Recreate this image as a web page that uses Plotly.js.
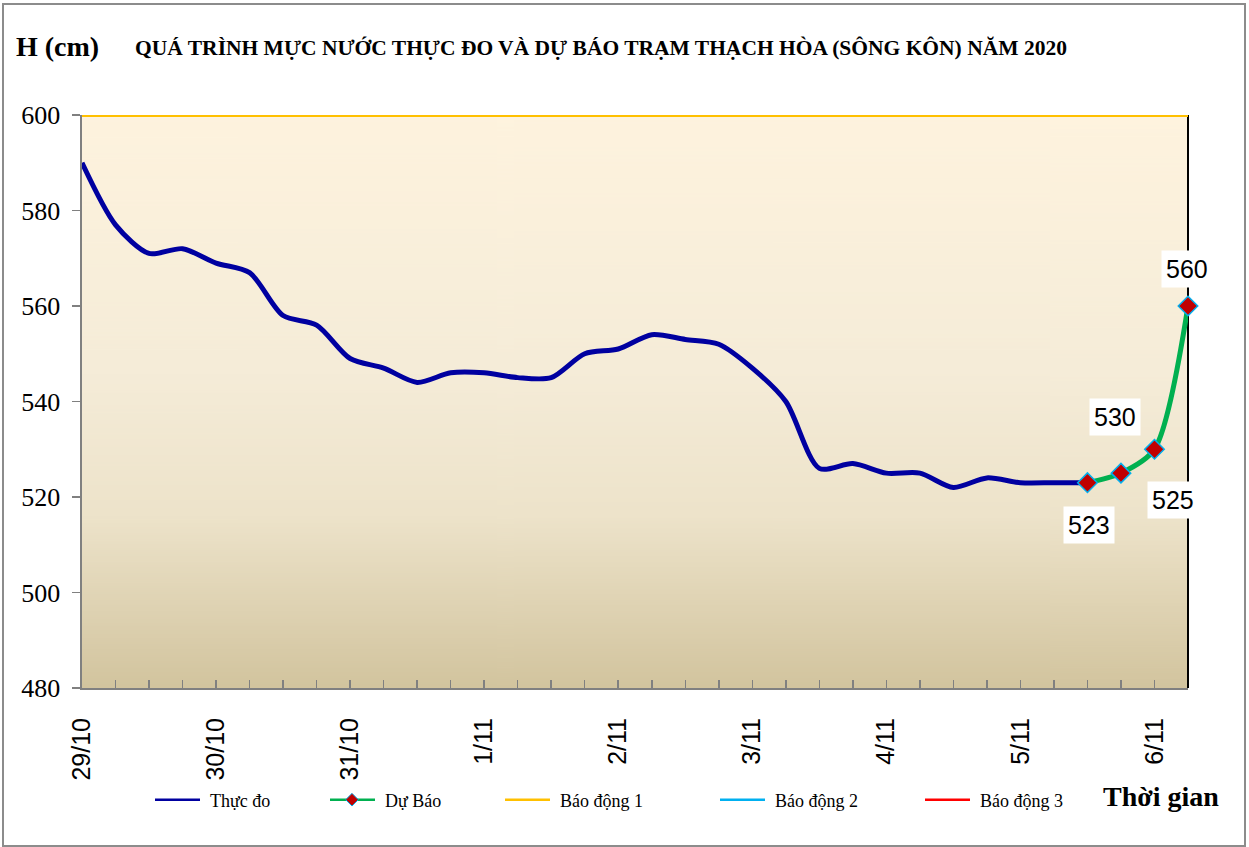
<!DOCTYPE html>
<html>
<head>
<meta charset="utf-8">
<script src="https://cdn.plot.ly/plotly-3.0.1.min.js"></script>
<style>
html,body{margin:0;padding:0;background:#fff;}
#wrap{position:relative;width:1249px;height:847px;}
#chart{width:1249px;height:847px;}
#frame{position:absolute;left:2px;top:3px;width:1240px;height:840px;border:2px solid #8c8c8c;pointer-events:none;}
</style>
</head>
<body>
<div id="wrap"><div id="chart"></div><div id="frame"></div></div>
<script>
// ---- data (4 observations per day, category index) ----
const dayLabels = ["29/10","30/10","31/10","1/11","2/11","3/11","4/11","5/11","6/11"];
const observed = [590,577,571,572,569,567,558,556,549,547,544,546,546,545,545,550,551,554,553,552,547,540,526,527,525,525,522,524,523,523,523];
const forecast = [523,525,530,560];
const forecastStart = 30;
const alarm1 = 600, alarm2 = 700, alarm3 = 800;
const nPoints = 34;

const idx = Array.from({length:nPoints},(_,i)=>i);
const obsX = observed.map((_,i)=>i);
const fcX = forecast.map((_,i)=>forecastStart+i);
const tickText = idx.map(i => (i%4===0) ? dayLabels[i/4] : "");

// gradient background image
function gradientURL(){
  const c=document.createElement('canvas'); c.width=4; c.height=600;
  const g=c.getContext('2d');
  const gr=g.createLinearGradient(0,0,0,600);
  gr.addColorStop(0,'#FEF3DE');
  gr.addColorStop(0.45,'#F5ECD8');
  gr.addColorStop(0.7,'#EDE3CA');
  gr.addColorStop(1,'#D2C49E');
  g.fillStyle=gr; g.fillRect(0,0,4,600);
  return c.toDataURL();
}

const serif = "Liberation Serif, Times New Roman, serif";
const sans = "Liberation Sans, Arial, sans-serif";

const traces = [
  {x: obsX, y: observed, type:'scatter', mode:'lines', name:'Thực đo',
   line:{color:'#0000A0', width:5, shape:'spline', smoothing:0.8}, legend:'legend', cliponaxis:false},
  {x: fcX, y: forecast, type:'scatter', mode:'lines+markers', name:'Dự Báo',
   line:{color:'#00B050', width:5, shape:'spline', smoothing:0.8},
   marker:{symbol:'diamond', size:15, color:'#C00000', line:{color:'#00B0F0', width:1.5}},
   legend:'legend2', cliponaxis:false},
  {x: idx, y: idx.map(()=>alarm1), type:'scatter', mode:'lines', name:'Báo động 1',
   line:{color:'#FFC000', width:4}, legend:'legend3'},
  {x: idx, y: idx.map(()=>alarm2), type:'scatter', mode:'lines', name:'Báo động 2',
   line:{color:'#00B0F0', width:2}, legend:'legend4'},
  {x: idx, y: idx.map(()=>alarm3), type:'scatter', mode:'lines', name:'Báo động 3',
   line:{color:'#FF0000', width:2}, legend:'legend5'}
];

const px = v => (v-82)/1106;
const py = v => (688-v)/573;
function leg(xpx){
  return {x:px(xpx), y:py(800), xanchor:'left', yanchor:'middle', orientation:'h', itemwidth:50,
          bgcolor:'rgba(0,0,0,0)', font:{family:serif, size:18, color:'#000'}};
}

// label offsets (pixels) for forecast values
const lblShift = [[2,-42],[52,-27],[-39,32],[-1,37]];
const annotations = forecast.map((v,i)=>({
  x: fcX[i], y: v, xref:'x', yref:'y', text: String(v), showarrow:false,
  xshift: lblShift[i][0], yshift: lblShift[i][1],
  font:{family:sans, size:25, color:'#000'}, bgcolor:'#fff', borderpad:4
}));
annotations.push({xref:'paper', yref:'paper', x:px(14), y:py(46), xanchor:'left', yanchor:'middle',
  text:'<b>H (cm)</b>', showarrow:false, font:{family:serif, size:28, color:'#000'}});
annotations.push({xref:'paper', yref:'paper', x:px(1101), y:py(796), xanchor:'left', yanchor:'middle',
  text:'<b>Thời gian</b>', showarrow:false, font:{family:serif, size:28, color:'#000'}});

const layout = {
  width:1249, height:847,
  margin:{l:82, r:61, t:115, b:159},
  paper_bgcolor:'#fff', plot_bgcolor:'rgba(0,0,0,0)',
  title:{text:'<b>QUÁ TRÌNH MỰC NƯỚC THỰC ĐO VÀ DỰ BÁO TRẠM THẠCH HÒA (SÔNG KÔN) NĂM 2020</b>',
    xref:'container', yref:'container', x:135/1249, xanchor:'left', y:1-47/847, yanchor:'middle',
    font:{family:serif, size:21.5, color:'#000'}},
  xaxis:{range:[0,33], tickmode:'array', tickvals:idx, ticktext:tickText, tickangle:-90,
    ticks:'inside', ticklen:8, tickwidth:1.5, tickcolor:'#808080',
    showline:true, linecolor:'#808080', linewidth:2, showgrid:false, zeroline:false,
    tickfont:{family:sans, size:25, color:'#000'}, ticklabelstandoff:18, fixedrange:true},
  yaxis:{range:[480,600], tickmode:'linear', tick0:480, dtick:20,
    ticks:'outside', ticklen:8, tickwidth:1.5, tickcolor:'#808080',
    showline:true, linecolor:'#808080', linewidth:2.5, showgrid:false, zeroline:false,
    tickfont:{family:serif, size:26, color:'#000'}, ticklabelstandoff:6, fixedrange:true},
  showlegend:true,
  legend:leg(150), legend2:leg(325), legend3:leg(500), legend4:leg(715), legend5:leg(920),
  images:[{source:gradientURL(), xref:'paper', yref:'paper', x:0, y:1, sizex:1, sizey:1,
    sizing:'stretch', layer:'below', xanchor:'left', yanchor:'top'}],
  shapes:[{type:'line', xref:'paper', yref:'paper', x0:1, x1:1, y0:0, y1:1,
    line:{color:'#000', width:2}, layer:'below'}],
  annotations: annotations
};

Plotly.newPlot('chart', traces, layout, {displayModeBar:false, staticPlot:true}).then(gd => {
  // thinner, longer legend symbols like the original
  gd.querySelectorAll('.legendlines path').forEach(p => {
    p.setAttribute('d','M5,0h45');
    p.style.strokeWidth = '2.5px';
  });
  gd.querySelectorAll('.legendpoints path').forEach(p => {
    p.setAttribute('transform','translate(27,0) scale(0.65)');
  });
});
</script>
</body>
</html>
